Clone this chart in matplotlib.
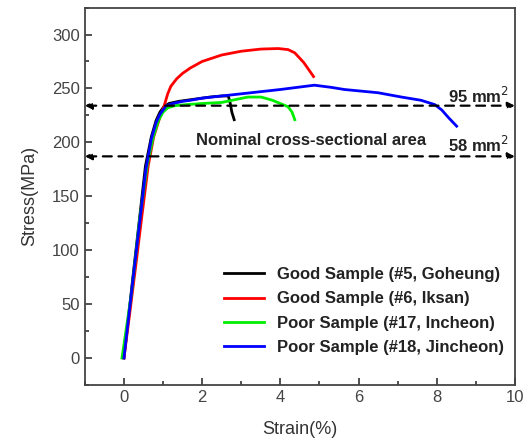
import matplotlib.pyplot as plt
from matplotlib.ticker import MultipleLocator

plt.rcParams['font.family'] = ['Liberation Sans', 'DejaVu Sans']

# strain (%) / stress (MPa)
goheung_x = [0.0, 0.26, 0.55, 0.7, 0.82, 0.92, 1.02, 1.15, 1.4, 1.8, 2.2, 2.5, 2.67, 2.72, 2.76, 2.82]
goheung_y = [0, 85, 178, 205, 220, 228, 233, 236, 238, 240, 242, 243, 243, 236, 228, 221]

iksan_x = [0.0, 0.15, 0.3, 0.46, 0.62, 0.76, 0.9, 1.03, 1.12, 1.2, 1.35, 1.5, 1.7, 2.0, 2.5, 3.0, 3.5, 3.95, 4.2, 4.37, 4.6, 4.85]
iksan_y = [0, 42, 85, 132, 178, 205, 221, 234, 245, 252, 259, 264, 269, 275, 281, 284.5, 286.5, 287, 286, 283, 274, 261]

incheon_x = [-0.05, 0.2, 0.4, 0.6, 0.75, 0.88, 1.0, 1.12, 1.3, 1.6, 2.0, 2.5, 2.9, 3.17, 3.51, 3.8, 4.0, 4.2, 4.3, 4.37]
incheon_y = [0, 62, 128, 180, 205, 220, 228, 232, 234, 235, 236, 237, 240, 242, 242, 239, 236, 233, 228, 221]

jincheon_x = [0.0, 0.26, 0.56, 0.7, 0.82, 0.92, 1.0, 1.08, 1.25, 1.5, 1.7, 2.0, 3.0, 4.0, 4.87, 5.3, 5.64, 6.5, 7.1, 7.6, 7.95, 8.13, 8.3, 8.51]
jincheon_y = [0, 82, 175, 203, 218, 226, 230, 234, 236, 238, 239, 241, 245, 249, 253, 251, 249, 246, 242, 239, 235, 230, 223, 215]

labels = ['Good Sample (#5, Goheung)', 'Good Sample (#6, Iksan)',
          'Poor Sample (#17, Incheon)', 'Poor Sample (#18, Jincheon)']
colors = ['black', '#ff0000', '#00ee00', '#0000ff']

area_levels = [234, 187]
area_labels = ['95 mm$^2$', '58 mm$^2$']

fig = plt.figure(figsize=(5.27, 4.45), dpi=100)
ax = fig.add_axes([0.161, 0.135, 0.816, 0.848])

series = [(goheung_x, goheung_y), (iksan_x, iksan_y),
          (incheon_x, incheon_y), (jincheon_x, jincheon_y)]
for (xs, ys), lab, c in zip(series, labels, colors):
    ax.plot(xs, ys, color=c, lw=2, label=lab)

for lev, txt, dy in zip(area_levels, area_labels, [9, 11]):
    ax.annotate('', xy=(10, lev), xytext=(-1, lev),
                arrowprops=dict(arrowstyle='<|-|>', ls=(0, (4, 3)), lw=1.6,
                                color='black', mutation_scale=10, shrinkA=0, shrinkB=0))
    ax.text(9.85, lev + dy, txt, ha='right', va='center', fontsize=12, fontweight='bold', color='#222222')

ax.text(1.85, 202, 'Nominal cross-sectional area', fontsize=12, fontweight='bold',
        va='center', color='#222222')

ax.set_xlim(-1, 10)
ax.set_ylim(-25, 325)
ax.xaxis.set_major_locator(MultipleLocator(2))
ax.xaxis.set_minor_locator(MultipleLocator(1))
ax.yaxis.set_major_locator(MultipleLocator(50))
ax.yaxis.set_minor_locator(MultipleLocator(25))
ax.set_yticks(range(0, 301, 50))
ax.tick_params(which='both', direction='in', colors='#333333', labelcolor='#444444', labelsize=12)
ax.tick_params(which='major', length=5, width=1.2)
ax.tick_params(which='minor', length=3, width=1.2)
for s in ax.spines.values():
    s.set_color('#444444')
    s.set_linewidth(1.3)

ax.set_xlabel('Strain(%)', fontsize=13, color='#333333', labelpad=12)
ax.set_ylabel('Stress(MPa)', fontsize=13, color='#333333', labelpad=10)

leg = ax.legend(loc='lower right', bbox_to_anchor=(1.01, 0.04), frameon=False, handlelength=2.4,
                labelspacing=0.55, prop={'weight': 'bold', 'size': 12})
for t in leg.get_texts():
    t.set_color('#222222')

plt.savefig('out.png', dpi=100)
